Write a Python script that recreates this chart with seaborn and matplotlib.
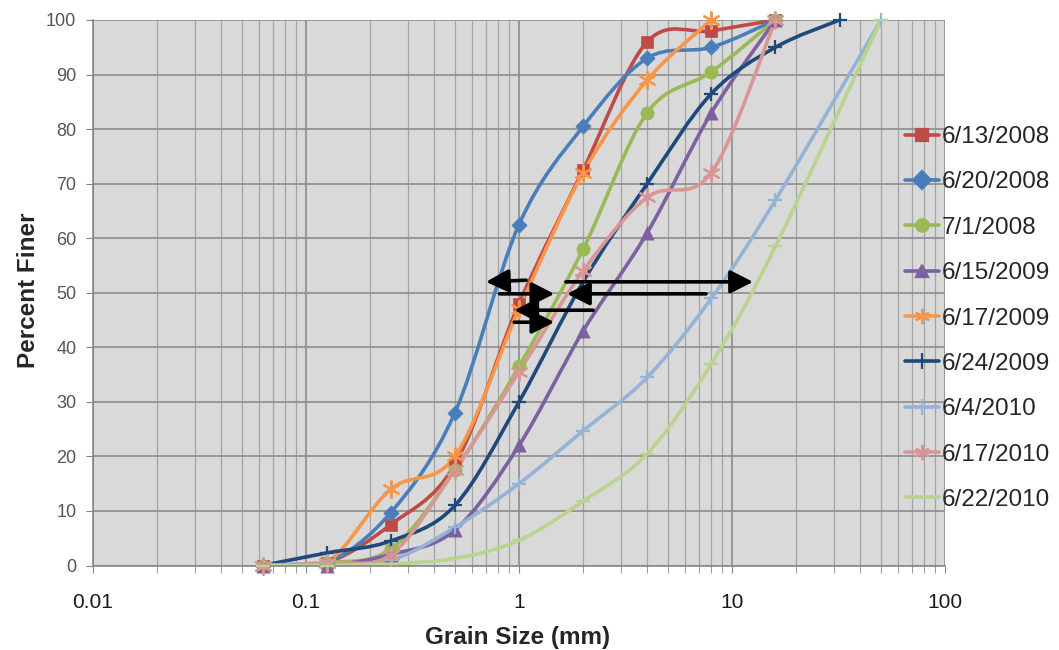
import matplotlib
matplotlib.use('Agg')
import numpy as np
import matplotlib.pyplot as plt
import seaborn as sns
from matplotlib.path import Path
from matplotlib.patches import PathPatch
from matplotlib.lines import Line2D
from matplotlib.ticker import LogLocator, NullFormatter, FixedLocator, FixedFormatter

# sieve sizes (mm)
sizes_to8 = [0.0625, 0.125, 0.25, 0.5, 1, 2, 4, 8]
sizes_to16 = sizes_to8 + [16]
sizes_to32 = sizes_to16 + [32]
sizes_to50 = sizes_to16 + [50]

# percent finer per sample date
labels = ['6/13/2008', '6/20/2008', '7/1/2008', '6/15/2009', '6/17/2009',
          '6/24/2009', '6/4/2010', '6/17/2010', '6/22/2010']
finer_061308 = [0, 0.5, 7.5, 18.5, 48, 72.5, 96, 98, 100]
finer_062008 = [0, 0.5, 9.7, 28, 62.5, 80.5, 93, 95, 100]
finer_070108 = [0, 0.5, 3, 17.5, 36.5, 58, 83, 90.5, 100]
finer_061509 = [0, 0, 2, 6.5, 22, 43, 61, 83, 100]
finer_061709 = [0, 0.5, 14, 20, 47, 72, 89, 100]
finer_062409 = [0, 2.3, 4.5, 11, 30, 52, 70, 86.5, 95, 100]
finer_060410 = [0, 0.5, 1, 7, 15, 24.7, 34.5, 49, 67, 100]
finer_061710 = [0, 0.5, 2, 17.5, 35.5, 54, 67.5, 72, 100]
finer_062210 = [0, 0, 0.3, 1.3, 4.6, 11.8, 20.5, 37, 58.5, 100]

xs_list = [sizes_to16, sizes_to16, sizes_to16, sizes_to16, sizes_to8,
           sizes_to32, sizes_to50, sizes_to16, sizes_to50]
ys_list = [finer_061308, finer_062008, finer_070108, finer_061509, finer_061709,
           finer_062409, finer_060410, finer_061710, finer_062210]

colors = ['#BE4B48', '#4A7EBB', '#98B954', '#7D60A0', '#F79646',
          '#1F497D', '#95B3D7', '#D99694', '#B9D48E']
markers = ['s', 'D', 'o', '^', (6, 2, 0), '+', '+', (6, 2, 0), '_']
msizes = [70, 60, 90, 90, 140, 110, 110, 140, 90]

# arrows (tail x, tail y, head x, head y)
arrow_tail_x = [1.08, 0.81, 1.66, 7.55, 2.23, 0.95]
arrow_tail_y = [52.3, 49.8, 52.0, 49.8, 46.8, 44.6]
arrow_head_x = [0.70, 1.465, 12.55, 1.68, 0.95, 1.465]
arrow_head_y = [52.0, 49.8, 52.0, 49.8, 46.8, 44.6]


def smooth_path(x, y, t=1/6):
    # Excel style smoothed line: Catmull-Rom bezier in log-x space
    u = np.log10(np.asarray(x, float))
    v = np.asarray(y, float)
    n = len(u)
    verts = [(u[0], v[0])]
    codes = [Path.MOVETO]
    for i in range(n - 1):
        p0 = max(i - 1, 0)
        p3 = min(i + 2, n - 1)
        c1 = (u[i] + (u[i + 1] - u[p0]) * t, v[i] + (v[i + 1] - v[p0]) * t)
        c2 = (u[i + 1] - (u[p3] - u[i]) * t, v[i + 1] - (v[p3] - v[i]) * t)
        verts += [c1, c2, (u[i + 1], v[i + 1])]
        codes += [Path.CURVE4] * 3
    verts = [(10 ** a, b) for a, b in verts]
    return Path(verts, codes)


sns.set_style('white')
plt.rcParams['font.family'] = ['Liberation Sans', 'DejaVu Sans']

fig = plt.figure(figsize=(10.59, 6.5), dpi=100)
ax = fig.add_axes([93 / 1059, 1 - 565.5 / 650, 852 / 1059, 545.5 / 650])
ax.set_facecolor('#D9D9D9')

for x, y, c, m, s in zip(xs_list, ys_list, colors, markers, msizes):
    ax.add_patch(PathPatch(smooth_path(x, y), fill=False, edgecolor=c,
                           lw=2.6, zorder=2, capstyle='round'))
    filled = m in ('s', 'D', 'o', '^')
    if filled:
        sns.scatterplot(x=x, y=y, marker=m, color=c, s=s, edgecolor=c,
                        linewidth=0.5, ax=ax, zorder=3, clip_on=False)
    else:
        sns.scatterplot(x=x, y=y, marker=m, color=c, s=s, linewidth=1.6,
                        ax=ax, zorder=3, clip_on=False)

for tx, ty, hx, hy in zip(arrow_tail_x, arrow_tail_y, arrow_head_x, arrow_head_y):
    ax.annotate('', xy=(hx, hy), xytext=(tx, ty), zorder=5,
                arrowprops=dict(arrowstyle='-|>,head_length=0.55,head_width=0.28',
                                color='black', lw=2.6, mutation_scale=25,
                                shrinkA=0, shrinkB=0))

ax.set_xscale('log')
ax.set_xlim(0.01, 100)
ax.set_ylim(0, 100)
ax.xaxis.set_major_locator(FixedLocator([0.01, 0.1, 1, 10, 100]))
ax.xaxis.set_major_formatter(FixedFormatter(['0.01', '0.1', '1', '10', '100']))
ax.xaxis.set_minor_locator(LogLocator(base=10, subs=np.arange(2, 10), numticks=20))
ax.xaxis.set_minor_formatter(NullFormatter())
ax.set_yticks(np.arange(0, 101, 10))

ax.grid(which='major', color='#8C8C8C', lw=1.2)
ax.grid(which='minor', axis='x', color='#A4A4A4', lw=0.9)
ax.set_axisbelow(True)

for side in ['top', 'right']:
    ax.spines[side].set_visible(False)
for side in ['left', 'bottom']:
    ax.spines[side].set_color('#868686')
    ax.spines[side].set_linewidth(1.2)

ax.tick_params(axis='x', which='both', direction='out', length=5, color='#868686',
               labelsize=15, pad=15, labelcolor='#1A1A1A', bottom=True)
ax.tick_params(axis='y', which='major', direction='out', length=5, color='#868686',
               labelsize=13, pad=7, labelcolor='#555555', left=True)

ax.set_xlabel('Grain Size (mm)', fontsize=17.5, fontweight='bold')
ax.set_ylabel('Percent Finer', fontsize=17.5, fontweight='bold')
ax.xaxis.set_label_coords(0.498, -0.11)
ax.yaxis.set_label_coords(-0.062, 0.505)

handles = []
for c, m in zip(colors, markers):
    filled = m in ('s', 'D', 'o', '^')
    handles.append(Line2D([], [], color=c, lw=2.6, marker=m,
                          markersize=9 if filled else 11,
                          markerfacecolor=c, markeredgecolor=c,
                          markeredgewidth=1.6))
fig.legend(handles, labels, loc='center left', bbox_to_anchor=(905 / 1059, 1 - 318.5 / 650),
           bbox_transform=fig.transFigure, frameon=False, fontsize=17.5,
           handlelength=1.4, handletextpad=0.1, labelspacing=0.96,
           borderpad=0, borderaxespad=0)

fig.savefig('out.png', dpi=100)
